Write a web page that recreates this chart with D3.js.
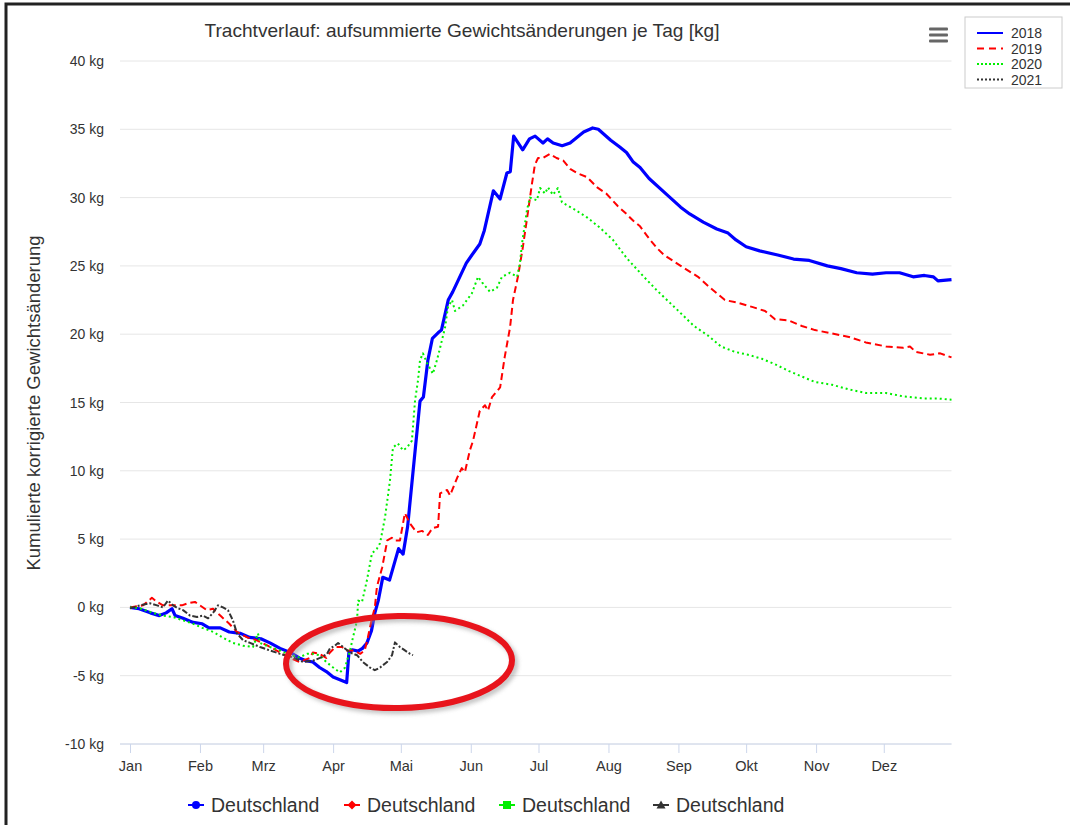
<!DOCTYPE html>
<html><head><meta charset="utf-8">
<script src="https://cdn.jsdelivr.net/npm/d3@7"></script>
<style>
html,body{margin:0;padding:0;background:#fff;}
svg{display:block;font-family:"Liberation Sans",Arial,sans-serif;}
</style></head>
<body><svg id="c" width="1070" height="825"></svg>
<script>
// ---- data: [day of year, cumulative kg] ----
const monthLabels = ["Jan","Feb","Mrz","Apr","Mai","Jun","Jul","Aug","Sep","Okt","Nov","Dez"];
const yTicks = [-10,-5,0,5,10,15,20,25,30,35,40];
const years = ["2018","2019","2020","2021"];
const legendName = "Deutschland";

const s2018 = [[0,0],[4,-0.1],[9,-0.4],[13,-0.6],[16,-0.4],[18.6,-0.1],[20,-0.6],[23.5,-0.8],[28,-1.1],[32,-1.2],[35,-1.5],[40,-1.5],[44,-1.8],[49,-1.9],[53,-2.2],[58,-2.3],[62,-2.6],[66.5,-3.0],[71,-3.3],[75,-3.7],[78,-3.9],[81,-4.0],[84,-4.4],[87,-4.7],[90,-5.1],[93,-5.3],[96,-5.5],[97,-3.3],[98.5,-3.1],[101,-3.2],[103,-3.0],[105,-2.6],[107,-1.7],[108.5,-0.4],[110,0.5],[112,2.2],[115,2.0],[119,4.3],[121,3.9],[123,5.9],[128.5,15.1],[130,15.4],[132,18.1],[134,19.7],[136.5,20.1],[138,20.3],[141,22.5],[143,23.1],[149,25.2],[151.5,25.8],[155,26.6],[157,27.6],[161,30.5],[164,29.9],[167,31.8],[168.5,31.9],[170,34.5],[174,33.5],[177,34.3],[179.5,34.5],[183,34.0],[185,34.3],[187.5,34.0],[191.5,33.8],[195,34.0],[198,34.4],[201,34.8],[205,35.1],[207.5,35.0],[213,34.2],[217,33.7],[220,33.3],[223,32.6],[226,32.2],[230,31.4],[238,30.2],[244,29.3],[248,28.8],[254,28.2],[260,27.7],[265,27.4],[268.5,26.9],[273,26.4],[279,26.1],[287,25.8],[294,25.5],[301,25.4],[309,25.0],[315,24.8],[322,24.5],[329,24.4],[335,24.5],[341,24.5],[347,24.2],[352,24.3],[356,24.2],[358,23.9],[364,24.0]];

const s2019 = [[0,0],[5.8,0.15],[9.7,0.7],[12,0.4],[14.6,0.15],[19,0.15],[23,0.15],[25.7,0.3],[28.8,0.4],[31,0.15],[34,-0.2],[36.8,-0.1],[40,-0.6],[44,-1.2],[47.4,-1.8],[52,-2.2],[56,-2.4],[61,-2.8],[66.5,-3.3],[71,-3.7],[75,-4.0],[79.7,-3.7],[81,-3.3],[84,-3.4],[87,-3.7],[88.6,-3.3],[91,-2.9],[94,-2.9],[96,-3.15],[99,-3.15],[102,-3.4],[104,-3.15],[105.4,-2.2],[107,-0.95],[108.5,0],[109.4,1.5],[111.7,2.9],[114,4.9],[116,5.1],[117.4,4.9],[119.6,4.9],[121.8,6.9],[124,6.15],[127,5.5],[129.4,5.6],[132,5.3],[134,5.8],[136.5,5.9],[137.4,8.35],[140.5,8.6],[141.8,8.2],[145,9.5],[147,10.2],[148.4,9.9],[150.6,11.5],[152,12.2],[155,14.4],[157.3,14.8],[158.6,14.4],[160.4,15.4],[164,16.1],[166,18.3],[168.4,20.5],[169.7,22.5],[172,24.3],[174,26.3],[176.3,28.9],[178,30.9],[179.4,32.4],[180.8,32.9],[183,32.9],[186,33.2],[189,32.9],[192,32.7],[195,32.1],[198,31.8],[202.5,31.5],[207,30.75],[211,30.3],[216,29.4],[220,28.8],[223,28.3],[226,27.9],[230,27.0],[233.5,26.3],[236.6,25.8],[244,25.0],[251.7,24.2],[257.4,23.35],[263.6,22.5],[269.4,22.3],[275.6,22.0],[281.4,21.7],[285.8,21.1],[292,21.0],[297.7,20.6],[303.5,20.3],[309.7,20.1],[318.6,19.8],[326,19.4],[335,19.1],[342.5,19.0],[345.6,19.1],[348.2,18.7],[354.5,18.5],[359,18.6],[364,18.3]];

const s2020 = [[0,0],[4.4,-0.07],[10.2,-0.4],[14.6,-0.6],[19,-0.7],[23.5,-0.95],[28,-1.2],[32,-1.5],[37,-1.8],[41,-2.2],[45.6,-2.6],[50,-2.8],[54.5,-2.9],[56.7,-1.9],[57.6,-2.6],[62,-2.9],[66.5,-3.15],[71,-3.5],[75,-3.66],[78.4,-3.4],[81,-3.4],[84,-3.5],[87,-4.0],[90,-4.4],[93,-4.76],[95.3,-4.4],[97.5,-3.15],[98.8,-2.2],[100.6,-0.95],[101.1,0.5],[102.8,0.4],[105,2.0],[107.2,3.95],[109.4,4.3],[110.8,4.7],[113,6.6],[115.2,9.3],[116.5,11.7],[118.7,12.0],[121,11.5],[122.7,11.7],[124.9,12.2],[126.3,15.15],[127.6,16.6],[128.5,18.1],[129.8,18.6],[131.6,17.9],[134.2,17.1],[136,18.1],[137.4,19.0],[139.6,20.5],[140.9,22.0],[142.7,22.5],[144,21.7],[147.5,22.1],[151.5,23.0],[154.2,24.2],[156,23.8],[159.5,23.1],[162.6,23.4],[164.8,24.2],[168.4,24.5],[171.5,24.2],[172.8,25.2],[173.7,26.65],[175.9,29.1],[177.2,30.0],[180.3,29.8],[181.7,30.7],[183.9,30.3],[185.2,30.75],[187.4,30.2],[189.6,30.7],[191.4,29.65],[196.3,29.2],[202.5,28.55],[208.2,27.8],[214,26.9],[220.2,25.55],[227.7,24.2],[233.5,23.2],[242.4,21.8],[249.9,20.6],[256.1,19.9],[261.9,19.1],[268.1,18.7],[273.8,18.5],[280,18.2],[285.8,17.8],[292,17.3],[297.7,16.9],[303.5,16.5],[311,16.3],[318.6,15.96],[326,15.7],[335,15.7],[342.5,15.45],[351.3,15.3],[357.6,15.3],[364,15.2]];

const s2021 = [[0,-0.07],[4.4,0.15],[8.9,0.3],[12,0.15],[14.6,0],[16.8,0.5],[19.1,0.15],[21.3,-0.07],[23.5,-0.2],[26.6,-0.6],[29.7,-0.7],[32.3,-0.6],[34.6,-0.8],[36.8,-0.4],[39,0.15],[41.2,0],[43.4,-0.2],[45.6,-0.95],[47.4,-1.9],[50.1,-2.4],[53.2,-2.6],[57.6,-2.9],[62,-3.15],[66.5,-3.4],[72.2,-3.66],[76.7,-4.0],[81.1,-3.9],[84.2,-3.7],[87.3,-3.4],[88.6,-3.0],[90.8,-2.8],[92.2,-2.6],[94.4,-2.9],[97.5,-3.3],[100.6,-3.5],[103.2,-4.0],[106.3,-4.4],[108.5,-4.6],[110.8,-4.4],[113.9,-4.0],[116.1,-3.5],[117.4,-2.56],[119.6,-2.9],[121.8,-3.15],[124.1,-3.4],[125.4,-3.5]];

const seriesData = [s2018, s2019, s2020, s2021];
const colors = ["#0000ff","#ff0000","#00ee00","#333333"];
const widths = [3.2,2,2,2];
const dashes = [null,"7,4","2,3","6,2,2,2"];

// ---- layout ----
const svg = d3.select("#c");
const x0 = 130, x1 = 951.5, yTop = 61, yBot = 744;
const base = new Date(2018,0,1);
const dayToDate = d => new Date(base.getTime() + d*86400000);
const x = d3.scaleTime().domain([base, new Date(2018,11,31)]).range([x0, x1]);
const y = d3.scaleLinear().domain([-10,40]).range([yBot, yTop]);

// frame
svg.append("rect").attr("x",6).attr("y",4).attr("width",1080).attr("height",840)
  .attr("fill","none").attr("stroke","#222").attr("stroke-width",3);

// gridlines
svg.append("g").selectAll("line").data(yTicks).join("line")
  .attr("x1",120).attr("x2",x1).attr("y1",d=>y(d)).attr("y2",d=>y(d))
  .attr("stroke","#e6e6e6").attr("stroke-width",1);

// y labels
svg.append("g").selectAll("text").data(yTicks).join("text")
  .attr("x",104).attr("y",d=>y(d)+5).attr("text-anchor","end")
  .attr("font-size",14).attr("fill","#333").text(d=>d+" kg");

// y title
svg.append("text").attr("transform","translate(40,403) rotate(-90)")
  .attr("text-anchor","middle").attr("font-size",18.5).attr("fill","#333")
  .text("Kumulierte korrigierte Gewichtsänderung");

// x axis
const xAxis = d3.axisBottom(x).ticks(d3.timeMonth.every(1)).tickSize(9)
  .tickFormat(d => monthLabels[d.getMonth()]);
const gx = svg.append("g").attr("transform",`translate(0,${yBot})`).call(xAxis);
gx.select(".domain").remove();
gx.append("line").attr("x1",120).attr("x2",x1).attr("stroke","#ccd6eb");
gx.selectAll(".tick line").attr("stroke","#ccd6eb");
gx.selectAll(".tick text").attr("font-size",14.5).attr("fill","#333").attr("dy","1.0em")
  .attr("font-family","Liberation Sans, Arial, sans-serif");

// lines
const line = d3.line().x(d=>x(dayToDate(d[0]))).y(d=>y(d[1]));
const gl = svg.append("g");
seriesData.forEach((s,i)=>{
  gl.append("path").datum(s).attr("d",line).attr("fill","none")
    .attr("stroke",colors[i]).attr("stroke-width",widths[i])
    .attr("stroke-dasharray",dashes[i]).attr("stroke-linejoin","round");
});

// red ellipse annotation
const defs = svg.append("defs");
defs.append("filter").attr("id","blur").append("feGaussianBlur").attr("stdDeviation",2);
svg.append("ellipse").attr("cx",402).attr("cy",665).attr("rx",113).attr("ry",46)
  .attr("fill","none").attr("stroke","#999").attr("stroke-width",6).attr("opacity",0.6)
  .attr("filter","url(#blur)").attr("transform","rotate(-1,402,665)");
svg.append("ellipse").attr("cx",399).attr("cy",662).attr("rx",113).attr("ry",46)
  .attr("fill","none").attr("stroke","#e8141c").attr("stroke-width",6)
  .attr("transform","rotate(-1,399,662)");

// title
svg.append("text").attr("x",462).attr("y",37).attr("text-anchor","middle")
  .attr("font-size",18.5).attr("fill","#333")
  .attr("textLength",515).attr("lengthAdjust","spacingAndGlyphs")
  .text("Trachtverlauf: aufsummierte Gewichtsänderungen je Tag [kg]");

// hamburger menu
[29,35,41].forEach(yy=>svg.append("rect").attr("x",929).attr("y",yy-1.5).attr("width",19).attr("height",3)
  .attr("rx",1).attr("fill","#666"));

// top-right legend
svg.append("rect").attr("x",965).attr("y",17).attr("width",97).attr("height",71)
  .attr("fill","#fff").attr("stroke","#ccc").attr("stroke-width",1);
years.forEach((yr,i)=>{
  const yy = 33 + i*15.5;
  svg.append("line").attr("x1",977).attr("x2",1003).attr("y1",yy).attr("y2",yy)
    .attr("stroke",colors[i]).attr("stroke-width",2)
    .attr("stroke-dasharray", i===1?"7,5": (i>=2?"2,2":null));
  svg.append("text").attr("x",1011).attr("y",yy+5).attr("font-size",14).attr("fill","#333").text(yr);
});

// bottom legend
const legX = [188, 344, 499, 653];
legX.forEach((lx,i)=>{
  const g = svg.append("g").attr("transform",`translate(${lx},805)`);
  g.append("line").attr("x1",0).attr("x2",16).attr("stroke",colors[i]).attr("stroke-width",2);
  if(i===0) g.append("circle").attr("cx",8).attr("r",4).attr("fill",colors[i]);
  if(i===1) g.append("path").attr("d","M8,-4.5L12.5,0L8,4.5L3.5,0Z").attr("fill",colors[i]);
  if(i===2) g.append("rect").attr("x",4).attr("y",-4).attr("width",8).attr("height",8).attr("fill",colors[i]);
  if(i===3) g.append("path").attr("d","M8,-4.5L12.5,3.5L3.5,3.5Z").attr("fill",colors[i]);
  g.append("text").attr("x",23).attr("y",6.5).attr("font-size",19.5).attr("fill","#333").text(legendName);
});
</script></body></html>
